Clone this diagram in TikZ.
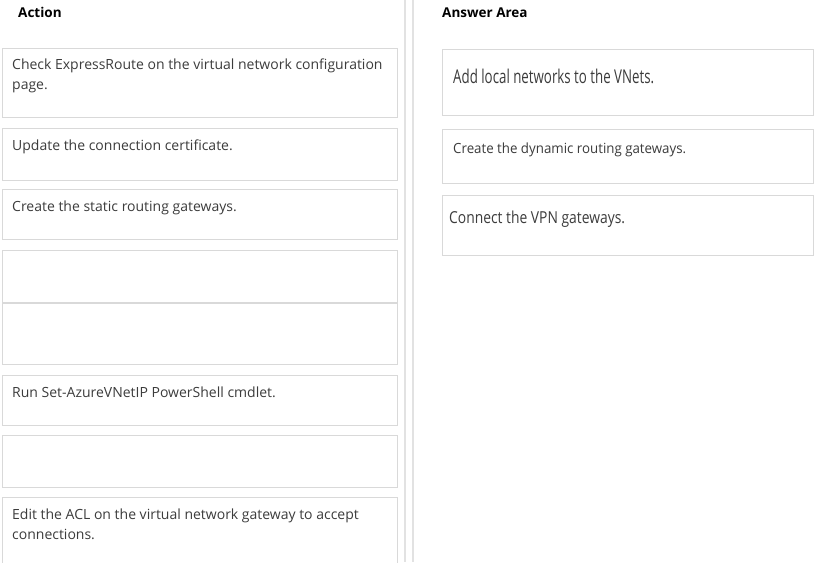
\documentclass[tikz,border=0pt]{standalone}
\usepackage{fontspec}
\setmainfont{Open Sans}
\newfontfamily\actfont{Open Sans}
\newfontfamily\dynfont[FakeStretch=0.95]{Open Sans}
\newfontfamily\addfont[FakeStretch=0.70]{Open Sans}
\newfontfamily\conffont[FakeStretch=0.84]{Open Sans}
\newfontfamily\titlefont{Open Sans Bold}
\definecolor{boxline}{HTML}{D9D9D9}
\definecolor{panelline}{HTML}{E2E2E2}
\definecolor{txtgray}{HTML}{3C3C3C}
\begin{document}
\begin{tikzpicture}[x=1pt,y=-1pt,
  optbox/.style={draw=boxline,line width=1pt,fill=white,rectangle,inner sep=0pt,anchor=north west},
  opttxt/.style={anchor=base west,inner sep=0pt,text=txtgray,font=\actfont\fontsize{14}{20}\selectfont,align=left},
  ttl/.style={anchor=base west,inner sep=0pt,text=black,font=\titlefont\fontsize{13.5}{16}\selectfont}]
\useasboundingbox (0,0) rectangle (840,562);
\fill[white] (0,0) rectangle (840,562);
% panel borders
\draw[panelline,line width=1.2pt] (405,0) -- (405,562);
\draw[panelline,line width=1.2pt] (413,0) -- (413,562);
% titles
\node[ttl] (tact) at (18,17) {Action};
\node[ttl] (tans) at (442,17) {Answer Area};
% left boxes
\node[optbox,minimum width=395pt,minimum height=69pt] (b1) at (2,48) {};
\node[optbox,minimum width=395pt,minimum height=52pt] (b2) at (2,128) {};
\node[optbox,minimum width=395pt,minimum height=50pt] (b3) at (2,189) {};
\node[optbox,minimum width=395pt,minimum height=52pt] (b4) at (2,250) {};
\node[optbox,minimum width=395pt,minimum height=61pt] (b5) at (2,303) {};
\node[optbox,minimum width=395pt,minimum height=50pt] (b6) at (2,375) {};
\node[optbox,minimum width=395pt,minimum height=52pt] (b7) at (2,435) {};
\node[optbox,minimum width=395pt,minimum height=75pt] (b8) at (2,497) {};
% right boxes
\node[optbox,minimum width=371pt,minimum height=66pt] (r1) at (442,49) {};
\node[optbox,minimum width=371pt,minimum height=54pt] (r2) at (442,129) {};
\node[optbox,minimum width=371pt,minimum height=60pt] (r3) at (442,195) {};
% left texts (base anchor = last line)
\node[opttxt] (t1) at (12,89) {Check ExpressRoute on the virtual network configuration\\page.};
\node[opttxt] (t2) at (12,150) {Update the connection certificate.};
\node[opttxt] (t3) at (12,211) {Create the static routing gateways.};
\node[opttxt] (t6) at (12,397) {Run Set-AzureVNetIP PowerShell cmdlet.};
\node[opttxt] (t8) at (12,539) {Edit the ACL on the virtual network gateway to accept\\connections.};
% right texts
\node[opttxt,font=\addfont\fontsize{19}{22}\selectfont] (s1) at (453,83) {Add local networks to the VNets.};
\node[opttxt,font=\dynfont\fontsize{14}{20}\selectfont] (s2) at (453,153) {Create the dynamic routing gateways.};
\node[opttxt,font=\conffont\fontsize{16.5}{20}\selectfont] (s3) at (449,223) {Connect the VPN gateways.};
\end{tikzpicture}
\end{document}
